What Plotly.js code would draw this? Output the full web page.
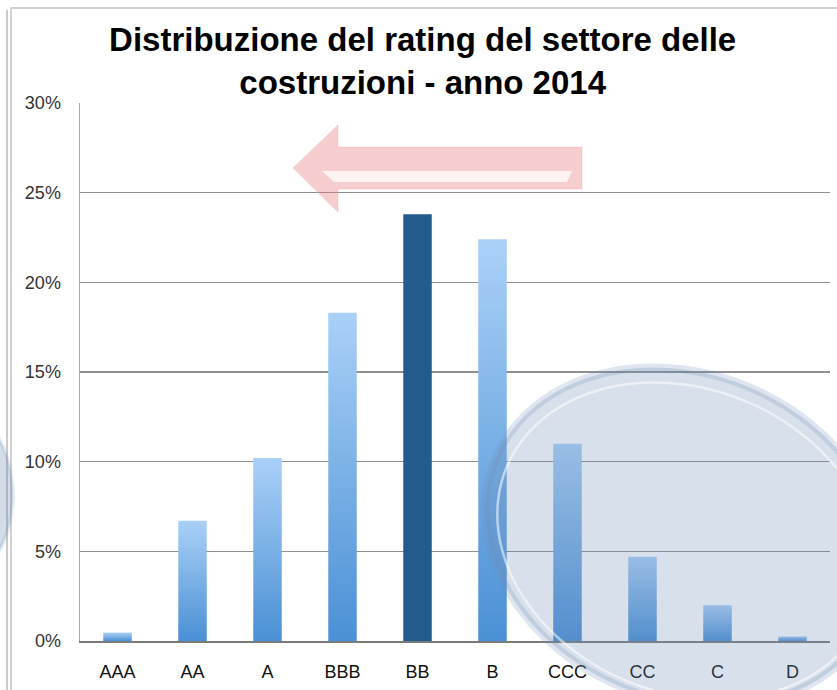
<!DOCTYPE html>
<html>
<head>
<meta charset="utf-8">
<script src="https://cdn.plot.ly/plotly-3.0.1.min.js"></script>
<style>
  html, body { margin: 0; padding: 0; background: #fff; }
  #plotArea { width: 837px; height: 690px; }
</style>
</head>
<body>
<div id="plotArea"></div>
<script>
// rating classes and share of companies (%)
var ratings = ["AAA", "AA", "A", "BBB", "BB", "B", "CCC", "CC", "C", "D"];
var shares = [0.47, 6.7, 10.2, 18.3, 23.8, 22.4, 11.0, 4.7, 2.0, 0.25];
var tickVals = [0, 5, 10, 15, 20, 25, 30];
var tickText = ["0%", "5%", "10%", "15%", "20%", "25%", "30%"];

var highlight = "BB";
var barColors = ratings.map(function (r) { return r === highlight ? "#245b8c" : "#6fa8e2"; });

// plot box in page pixels, used to place the decorations
var L = 80, R = 7, T = 103, B = 49, W = 837, H = 690;
var pw = W - L - R, ph = H - T - B;
function px(x) { return (x - L) / pw; }
function py(y) { return (H - B - y) / ph; }

function ellipsePath(cx, cy, a, b, rot) {
    var r = rot * Math.PI / 180, pts = [];
    for (var i = 0; i < 120; i++) {
        var t = i / 120 * 2 * Math.PI;
        var x = cx + a * Math.cos(t) * Math.cos(r) - b * Math.sin(t) * Math.sin(r);
        var y = cy + a * Math.cos(t) * Math.sin(r) + b * Math.sin(t) * Math.cos(r);
        pts.push((i ? "L" : "M") + px(x).toFixed(4) + "," + py(y).toFixed(4));
    }
    return pts.join(" ") + " Z";
}
function polyPath(list) {
    return list.map(function (p, i) { return (i ? "L" : "M") + px(p[0]).toFixed(4) + "," + py(p[1]).toFixed(4); }).join(" ") + " Z";
}

var trace = {
    x: ratings,
    y: shares,
    type: "bar",
    width: 0.38,
    marker: { color: barColors },
    hoverinfo: "x+y"
};

var shapes = [
    // frame of the pasted picture
    { type: "line", xref: "paper", yref: "paper", x0: px(7), x1: px(7), y0: py(10), y1: py(700),
      line: { color: "#b8b8b8", width: 1.5 } },
    { type: "rect", xref: "paper", yref: "paper", x0: px(11), x1: px(900), y0: py(8), y1: py(700),
      line: { color: "#c4c4c4", width: 1.5 } },
    // left ellipse peeking in
    { type: "path", xref: "paper", yref: "paper", layer: "above", path: ellipsePath(-75, 495, 88, 105, 0),
      fillcolor: "rgba(110,140,180,0.3)", line: { color: "rgba(110,140,180,0.15)", width: 4 } },
    // big ellipse round the low ratings
    { type: "path", xref: "paper", yref: "paper", layer: "above", path: ellipsePath(685, 537, 205, 163, 22),
      fillcolor: "rgba(110,140,180,0.27)", line: { color: "rgba(110,140,180,0.22)", width: 8 } },
    { type: "path", xref: "paper", yref: "paper", layer: "above", path: ellipsePath(686, 541, 194, 152, 22),
      fillcolor: "rgba(0,0,0,0)", line: { color: "rgba(255,255,255,0.55)", width: 2.5 } },
    // arrow
    { type: "path", xref: "paper", yref: "paper", layer: "above",
      path: polyPath([[293, 168], [338, 125], [338, 147], [582, 147], [582, 189], [338, 189], [338, 212]]),
      fillcolor: "rgba(232,120,125,0.36)", line: { color: "rgba(232,120,125,0.2)", width: 1 } },
    { type: "path", xref: "paper", yref: "paper", layer: "above",
      path: polyPath([[322, 171], [572, 171], [567, 182], [334, 182]]),
      fillcolor: "rgba(255,255,255,0.75)", line: { width: 0 } }
];

var layout = {
    width: W,
    height: H,
    margin: { l: L, r: R, t: T, b: B },
    paper_bgcolor: "#ffffff",
    plot_bgcolor: "#ffffff",
    showlegend: false,
    font: { family: "Liberation Sans, Arial, sans-serif", color: "#222" },
    title: {
        text: "Distribuzione del rating del settore delle<br>costruzioni - anno 2014",
        font: { family: "Liberation Sans, Arial, sans-serif", size: 33, color: "#000", weight: "bold" },
        x: 0.505, xanchor: "center",
        y: 1 - 51 / H, yanchor: "top"
    },
    xaxis: {
        type: "category",
        showgrid: false,
        showline: true, linecolor: "#7a7a7a", linewidth: 2,
        ticks: "", tickfont: { size: 18, color: "#111" },
        ticklabelstandoff: 13,
        fixedrange: true
    },
    yaxis: {
        range: [0, 30],
        tickvals: tickVals,
        ticktext: tickText,
        showgrid: true, gridcolor: "#8f8f8f", gridwidth: 1.5,
        zeroline: false,
        showline: true, linecolor: "#a8a8a8", linewidth: 1.5,
        ticks: "", tickfont: { size: 18, color: "#333" },
        ticklabelstandoff: 14,
        fixedrange: true
    },
    shapes: shapes
};

Plotly.newPlot("plotArea", [trace], layout, { displayModeBar: false, staticPlot: true }).then(function (gd) {
    // soft vertical gradient on the light bars
    var ns = "http://www.w3.org/2000/svg";
    var svg = gd.querySelector("svg.main-svg");
    var defs = svg.querySelector("defs") || svg.insertBefore(document.createElementNS(ns, "defs"), svg.firstChild);
    var grad = document.createElementNS(ns, "linearGradient");
    grad.setAttribute("id", "barGrad");
    grad.setAttribute("x1", "0"); grad.setAttribute("y1", "0");
    grad.setAttribute("x2", "0"); grad.setAttribute("y2", "1");
    [["0", "#aad0f7"], ["1", "#4a90d5"]].forEach(function (s) {
        var stop = document.createElementNS(ns, "stop");
        stop.setAttribute("offset", s[0]);
        stop.setAttribute("stop-color", s[1]);
        grad.appendChild(stop);
    });
    defs.appendChild(grad);
    var paths = gd.querySelectorAll(".barlayer .point path");
    paths.forEach(function (p, i) {
        if (ratings[i] !== highlight) p.style.fill = "url(#barGrad)";
    });
});
</script>
</body>
</html>
